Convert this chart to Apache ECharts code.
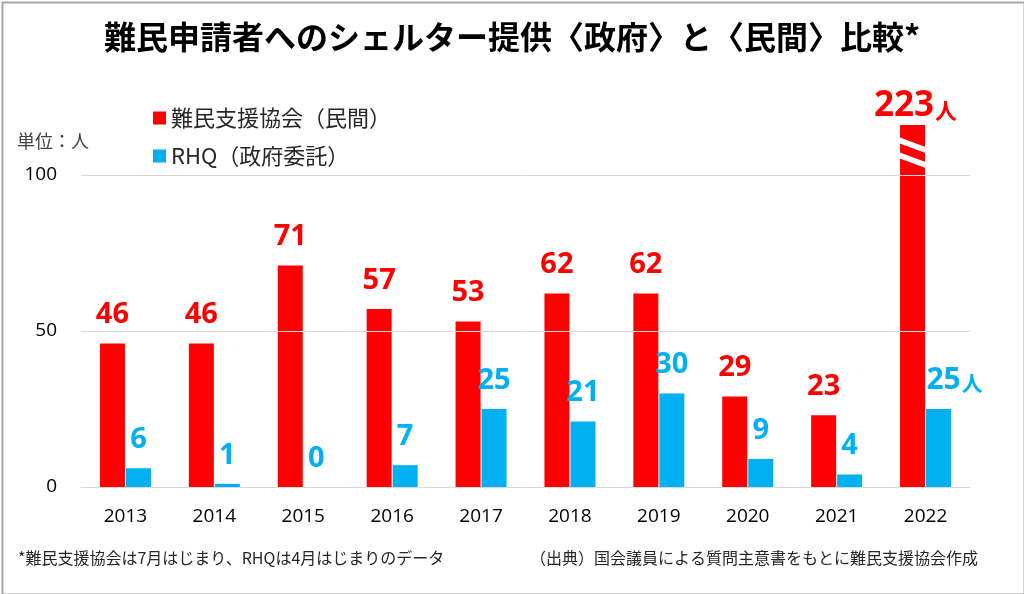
<!DOCTYPE html>
<html>
<head>
<meta charset="utf-8">
<script src="https://cdn.jsdelivr.net/npm/echarts@6/dist/echarts.min.js"></script>
<style>
html,body{margin:0;padding:0;background:#fff;}
#chart{width:1024px;height:594px;}
</style>
</head>
<body>
<div id="chart"></div>
<script>
// ---- data ----
const categories = ['2013','2014','2015','2016','2017','2018','2019','2020','2021','2022'];
const jarValues = [46, 46, 71, 57, 53, 62, 62, 29, 23, 223];   // 難民支援協会（民間）
const rhqValues = [6, 1, 0, 7, 25, 21, 30, 9, 4, 25];          // RHQ（政府委託）
const seriesNames = ['難民支援協会（民間）', 'RHQ（政府委託）'];
const yTicks = [0, 50, 100];
const axisCap = 116;          // visible top of the value axis (2022 bar is broken)
const brokenIndex = 9;        // 2022

const RED = '#FF0000', BLUE = '#00B0F0';
const FONT = "'Open Sans','Noto Sans CJK JP',sans-serif";
const JFONT = "'Noto Sans CJK JP',sans-serif";

const chart = echarts.init(document.getElementById('chart'), null, {renderer:'canvas'});

const lastIdx = categories.length - 1;

function redData() {
  return jarValues.map((v, i) => {
    if (i === lastIdx) {
      return { value: v, label: { distance: 1, offset: [3, 0], formatter: p => '{n|' + p.value + '}{u|人}' } };
    }
    return v;
  });
}
function blueData() {
  return rhqValues.map((v, i) => {
    if (i === lastIdx) {
      return { value: v, label: { offset: [16, 0], formatter: p => '{n|' + p.value + '}{u|人}' } };
    }
    return v;
  });
}

const option = {
  backgroundColor: '#fff',
  animation: false,
  title: {
    text: '難民申請者へのシェルター提供〈政府〉と〈民間〉比較*',
    left: 'center',
    top: 21,
    padding: 0,
    textStyle: { fontFamily: JFONT, fontSize: 32, fontWeight: 'bold', color: '#000' }
  },
  legend: {
    data: seriesNames,
    orient: 'vertical',
    left: 153,
    top: 107,
    padding: 0,
    itemWidth: 13,
    itemHeight: 13,
    itemGap: 16,
    icon: 'rect',
    textStyle: { fontFamily: JFONT, fontSize: 22, color: '#262626' }
  },
  grid: { left: 81, right: 54, top: 125, bottom: 107, containLabel: false },
  xAxis: {
    type: 'category',
    data: categories,
    axisLine: { show: true, lineStyle: { color: '#d9d9d9', width: 1 } },
    axisTick: { show: false },
    axisLabel: { fontFamily: FONT, fontSize: 19, color: '#000', margin: 20 }
  },
  yAxis: {
    type: 'value',
    min: 0,
    max: axisCap,
    interval: 50,
    axisLine: { show: false },
    axisTick: { show: false },
    splitLine: { show: false },
    axisLabel: {
      fontFamily: FONT, fontSize: 19, color: '#000', margin: 24,
      showMaxLabel: false,
      formatter: v => (yTicks.indexOf(v) >= 0 ? String(v) : '')
    }
  },
  series: [
    {
      name: seriesNames[0],
      type: 'bar',
      barWidth: 25,
      barGap: '4%',
      clip: true,
      itemStyle: { color: RED },
      data: redData(),
      label: {
        show: true, position: 'top', distance: 14,
        fontFamily: FONT, fontSize: 29, fontWeight: 'bold', color: RED,
        rich: {
          n: { fontFamily: FONT, fontSize: 35, fontWeight: 'bold', color: RED },
          u: { fontFamily: JFONT, fontSize: 22, fontWeight: 'bold', color: RED, padding: [8, 0, 0, 1] }
        }
      },
      z: 2
    },
    {
      name: seriesNames[1],
      type: 'bar',
      barWidth: 25,
      barGap: '4%',
      itemStyle: { color: BLUE },
      data: blueData(),
      label: {
        show: true, position: 'top', distance: 14,
        fontFamily: FONT, fontSize: 29, fontWeight: 'bold', color: BLUE,
        rich: {
          n: { fontFamily: FONT, fontSize: 30, fontWeight: 'bold', color: BLUE },
          u: { fontFamily: JFONT, fontSize: 21, fontWeight: 'bold', color: BLUE, padding: [6, 0, 0, 1] }
        }
      },
      markLine: {
        silent: true,
        symbol: ['none', 'none'],
        label: { show: false },
        lineStyle: { color: '#d9d9d9', type: 'solid', width: 1 },
        data: yTicks.filter(t => t > 0).map(t => ({ yAxis: t }))
      },
      z: 2
    },
    {
      type: 'custom',
      silent: true,
      z: 5,
      data: [[brokenIndex, axisCap]],
      renderItem: function (params, api) {
        const base = api.coord([api.value(0), 0]);
        const top = api.coord([api.value(0), api.value(1)])[1];
        const cx = base[0];
        const L = cx - 27, R = cx;
        const stripe = (a, b) => ({
          type: 'polygon',
          shape: { points: [[L, top + a], [R, top + a + 10], [R, top + b + 10], [L, top + b]] },
          style: { fill: '#fff' }
        });
        return { type: 'group', children: [stripe(12, 18), stripe(27, 33)] };
      }
    }
  ],
  graphic: [
    {
      type: 'text', left: 17, top: 132,
      style: { text: '単位：人', font: "18px 'Noto Sans CJK JP', sans-serif", fill: '#404040' }
    },
    {
      type: 'text', left: 18, top: 550,
      style: { text: '*難民支援協会は7月はじまり、RHQは4月はじまりのデータ', font: "16px 'Noto Sans CJK JP', sans-serif", fill: '#262626' }
    },
    {
      type: 'text', right: 46, top: 550,
      style: { text: '（出典）国会議員による質問主意書をもとに難民支援協会作成', font: "16px 'Noto Sans CJK JP', sans-serif", fill: '#262626' }
    },
    {
      type: 'rect', left: 0, top: 0, silent: true, z: 100,
      shape: { x: 1, y: 1, width: 1022, height: 592 },
      style: { fill: 'none', stroke: '#a6a6a6', lineWidth: 2 }
    }
  ]
};

chart.setOption(option);
</script>
</body>
</html>
